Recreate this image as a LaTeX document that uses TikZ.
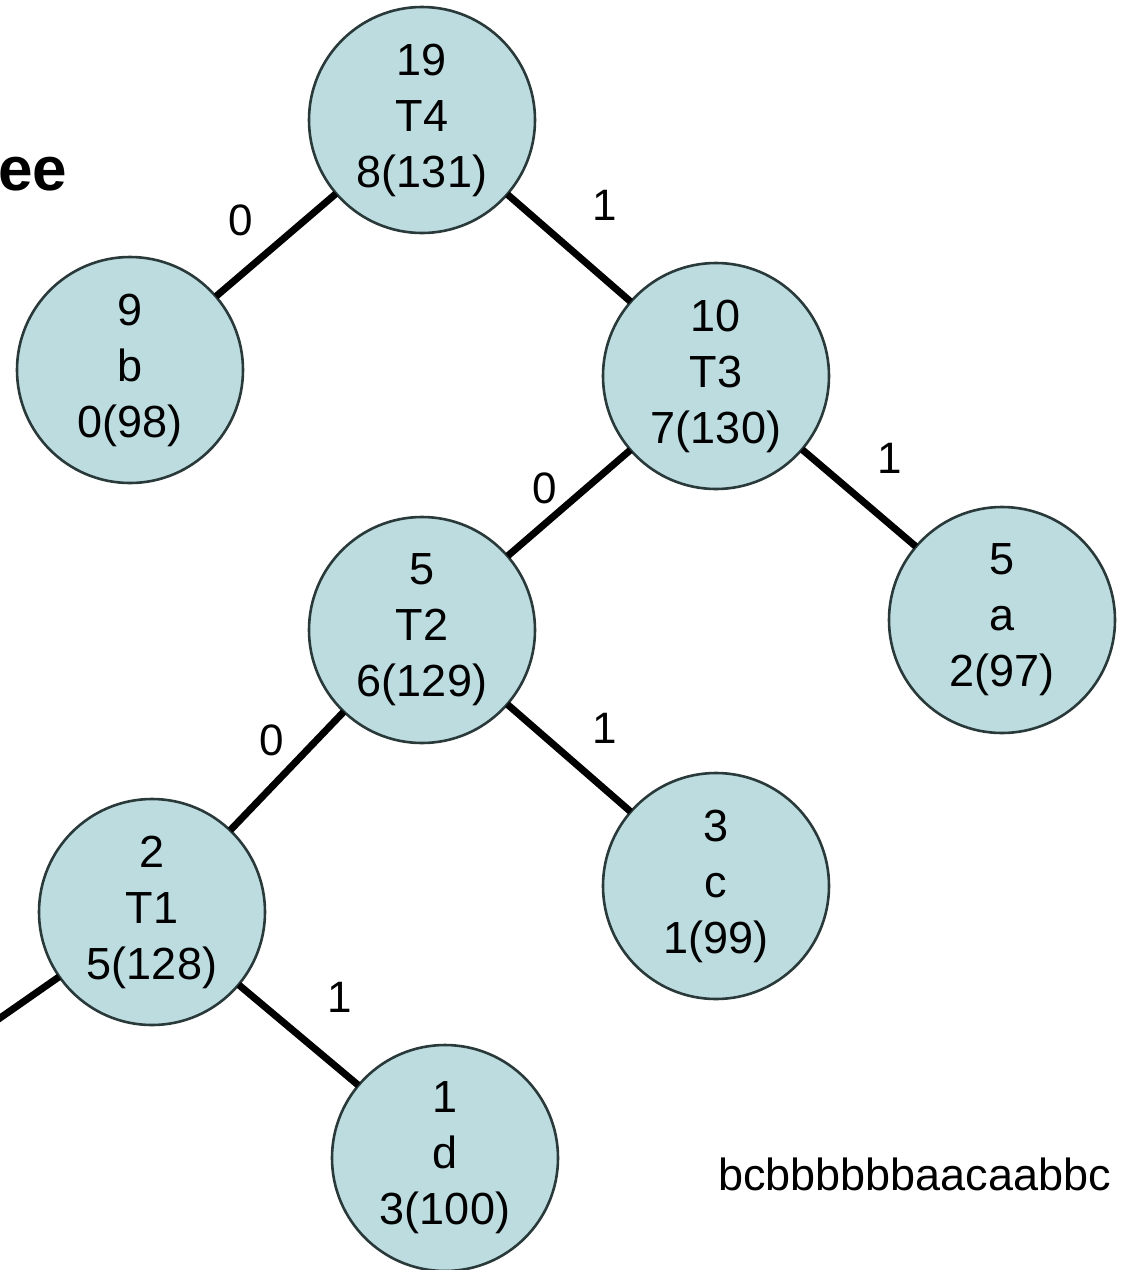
\documentclass[tikz,border=0pt]{standalone}
\usepackage{fontspec}
\setmainfont{Liberation Sans}
\definecolor{nodefill}{HTML}{BCDCE0}
\definecolor{nodeline}{HTML}{2A3A3A}
\begin{document}
\begin{tikzpicture}[x=1pt,y=-1pt,
  tnode/.style={circle,draw=nodeline,line width=2.6pt,fill=nodefill,minimum size=226pt,inner sep=0pt,align=center,font=\fontsize{45}{56}\selectfont},
  edge/.style={line width=7pt,black,shorten <=-1pt,shorten >=-1pt},
  elabel/.style={font=\fontsize{44}{50}\selectfont}]
\useasboundingbox (0,0) rectangle (1123,1270);
\begin{scope}
\clip (0,0) rectangle (1123,1270);
\node[font=\fontsize{62}{70}\bfseries, anchor=base west, inner sep=0pt] (title) at (-2,190) {ee};
\node[font=\fontsize{45}{50}\selectfont, anchor=base west, inner sep=0pt] (str) at (718,1190) {bcbbbbbbaacaabbc};
\node[tnode] (t4) at (422,120) {19\\T4\\8(131)};
\node[tnode] (b) at (130,370) {9\\b\\0(98)};
\node[tnode] (t3) at (716,376) {10\\T3\\7(130)};
\node[tnode] (t2) at (422,630) {5\\T2\\6(129)};
\node[tnode] (a) at (1002,620) {5\\a\\2(97)};
\node[tnode] (c) at (716,886) {3\\c\\1(99)};
\node[tnode] (t1) at (152,912) {2\\T1\\5(128)};
\node[tnode] (d) at (445,1158) {1\\d\\3(100)};
\coordinate (off) at (-10,1025);
\draw[edge] (off) -- (t1);
\draw[edge] (t4) -- (b);
\draw[edge] (t4) -- (t3);
\draw[edge] (t3) -- (a);
\draw[edge] (t3) -- (t2);
\draw[edge] (t2) -- (c);
\draw[edge] (t2) -- (t1);
\draw[edge] (t1) -- (d);
\node[elabel] (l1) at (241,220) {0};
\node[elabel] (l2) at (605,205) {1};
\node[elabel] (l3) at (890,458) {1};
\node[elabel] (l4) at (545,488) {0};
\node[elabel] (l5) at (272,740) {0};
\node[elabel] (l6) at (605,728) {1};
\node[elabel] (l7) at (340,997) {1};
\end{scope}
\end{tikzpicture}
\end{document}
